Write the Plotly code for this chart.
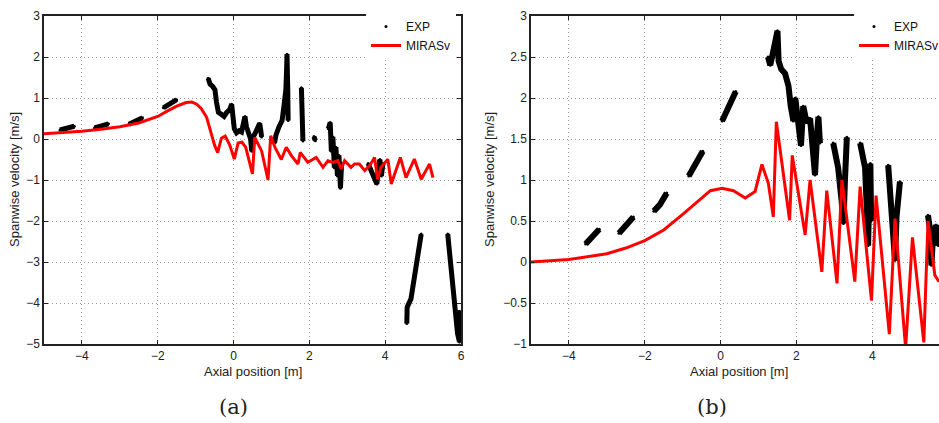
import plotly.graph_objects as go

W, H = 939, 423

# ---------------- data: chart (a) ----------------
red_a_x = [-5, -4, -3.5, -3, -2.5, -2, -1.75, -1.5, -1.25, -1.1, -0.97, -0.85, -0.71, -0.6, -0.5, -0.42,
           -0.32, -0.22, -0.1, 0.02, 0.12, 0.22, 0.32, 0.5, 0.56, 0.74, 0.91, 0.98, 1.09, 1.26, 1.39,
           1.53, 1.70, 1.76, 1.96, 2.18, 2.36, 2.49, 2.62, 2.75, 2.84, 2.93, 3.1, 3.19, 3.32, 3.46,
           3.59, 3.72, 3.8, 3.89, 4.07, 4.16, 4.4, 4.55, 4.77, 4.95, 5.17, 5.26]
red_a_y = [0.13, 0.19, 0.24, 0.3, 0.39, 0.55, 0.68, 0.8, 0.89, 0.9, 0.85, 0.74, 0.53, 0.18, -0.15, -0.33,
           0.02, 0.07, -0.15, -0.49, -0.1, -0.08, -0.2, -0.85, 0.04, -0.29, -1.0, 0.08, -0.2, -0.5, -0.2,
           -0.41, -0.61, -0.33, -0.57, -0.45, -0.69, -0.53, -0.57, -0.53, -0.73, -0.53, -0.69, -0.61, -0.61, -0.77,
           -0.65, -0.45, -0.98, -0.69, -0.49, -1.1, -0.45, -0.94, -0.49, -0.98, -0.61, -0.94]

exp_a_segments = [
    ([-4.58, -4.4, -4.2], [0.22, 0.27, 0.31]),
    ([-3.67, -3.5, -3.3], [0.27, 0.32, 0.37]),
    ([-2.76, -2.6, -2.4], [0.36, 0.44, 0.52]),
    ([-1.85, -1.7, -1.5], [0.76, 0.84, 0.96]),
    ([-0.67, -0.62, -0.55, -0.49, -0.45, -0.4, -0.32, -0.25, -0.18, -0.1, -0.05, -0.02, 0.02, 0.08,
      0.15, 0.21, 0.3, 0.34, 0.38, 0.45, 0.48, 0.52, 0.6, 0.69, 0.72, 0.74],
     [1.48, 1.34, 1.28, 1.2, 0.9, 0.65, 0.6, 0.55, 0.65, 0.72, 0.85, 0.4, 0.25, 0.15,
      0.2, 0.17, 0.55, 0.3, 0.15, 0.0, -0.3, 0.05, 0.2, 0.38, 0.2, 0.05]),
    ([1.08, 1.12, 1.2, 1.28, 1.33, 1.38, 1.4, 1.41, 1.43, 1.44],
     [-0.1, 0.1, 0.3, 0.45, 0.8, 1.2, 1.7, 2.07, 1.2, 0.45]),
    ([1.79, 1.8, 1.82, 1.83], [1.25, 0.8, 0.3, -0.05]),
    ([2.12, 2.16], [0.06, -0.04]),
    ([2.5, 2.55, 2.58, 2.62, 2.66, 2.7, 2.74, 2.78, 2.82, 2.85],
     [0.25, 0.4, -0.3, 0.05, -0.7, -0.2, -0.9, -0.4, -1.2, -0.6]),
    ([3.55, 3.62, 3.7, 3.78, 3.82, 3.86, 3.9, 3.94], [-0.6, -0.75, -0.95, -1.1, -0.75, -0.5, -0.9, -0.6]),
    ([4.57, 4.58, 4.68, 4.75, 4.82, 4.88, 4.95], [-4.5, -4.1, -3.9, -3.5, -3.1, -2.7, -2.32]),
    ([5.65, 5.7, 5.74, 5.8, 5.86, 5.91, 5.96, 6.0, 5.95, 6.0],
     [-2.32, -2.8, -3.2, -3.7, -4.2, -4.75, -4.95, -4.6, -4.2, -4.3]),
]

# ---------------- data: chart (b) ----------------
red_b_x = [-5, -4, -3, -2.5, -2, -1.5, -1, -0.62, -0.27, 0.04, 0.34, 0.65, 0.91, 1.09, 1.26, 1.39, 1.47,
           1.82, 1.89, 2.23, 2.36, 2.67, 2.8, 3.07, 3.2, 3.54, 3.68, 3.98, 4.1, 4.45, 4.6, 4.88, 5.06,
           5.36, 5.47, 5.65, 5.76]
red_b_y = [0.0, 0.03, 0.1, 0.17, 0.26, 0.39, 0.58, 0.73, 0.87, 0.9, 0.87, 0.78, 0.86, 1.19, 0.96, 0.55, 1.71,
           0.51, 1.3, 0.33, 1.0, -0.12, 0.87, -0.26, 1.0, -0.24, 0.92, -0.47, 0.81, -0.88, 0.53, -1.05, 0.30,
           -0.98, 0.5, -0.16, -0.24]

exp_b_segments = [
    ([-3.56, -3.4, -3.2], [0.22, 0.3, 0.4]),
    ([-2.68, -2.5, -2.3], [0.35, 0.44, 0.55]),
    ([-1.76, -1.6, -1.42], [0.62, 0.7, 0.84]),
    ([-0.84, -0.65, -0.47], [1.05, 1.2, 1.35]),
    ([0.04, 0.2, 0.4], [1.72, 1.88, 2.08]),
    ([1.25, 1.31, 1.38, 1.44, 1.5, 1.53, 1.6, 1.7, 1.79, 1.85, 1.92, 1.97, 2.05, 2.12, 2.18, 2.27,
      2.36, 2.45, 2.49, 2.55, 2.58, 2.62],
     [2.5, 2.4, 2.55, 2.66, 2.82, 2.45, 2.35, 2.3, 2.15, 1.9, 1.72, 2.0, 1.6, 1.42, 1.9, 1.7,
      1.75, 1.3, 1.06, 1.6, 1.77, 1.45]),
    ([2.97, 3.05, 3.1, 3.19, 3.24, 3.28, 3.33], [1.45, 1.25, 1.15, 0.75, 0.47, 1.0, 1.52]),
    ([3.68, 3.76, 3.81, 3.86, 3.89, 3.92, 3.95, 3.97], [1.45, 1.25, 1.15, 0.6, 0.2, 0.8, 1.2, 0.5]),
    ([4.42, 4.48, 4.51, 4.56, 4.6, 4.64, 4.7, 4.73], [1.18, 0.85, 0.59, 0.2, 0.02, 0.55, 0.8, 0.98]),
    ([5.47, 5.52, 5.56, 5.6, 5.68, 5.74], [0.57, 0.4, -0.04, 0.3, 0.45, 0.2]),
]

# ---------------- ticks ----------------
x_ticks = [-4, -2, 0, 2, 4, 6]
x_ticktext = ["−4", "−2", "0", "2", "4", "6"]
ya_ticks = [-5, -4, -3, -2, -1, 0, 1, 2, 3]
ya_ticktext = ["−5", "−4", "−3", "−2", "−1", "0", "1", "2", "3"]
yb_ticks = [-1, -0.5, 0, 0.5, 1, 1.5, 2, 2.5, 3]
yb_ticktext = ["−1", "−0.5", "0", "0.5", "1", "1.5", "2", "2.5", "3"]


def join(segs):
    xs, ys = [], []
    for sx, sy in segs:
        xs += list(sx) + [None]
        ys += list(sy) + [None]
    return xs, ys


FONT = "Liberation Sans, Arial, sans-serif"
fig = go.Figure()

for segs, rx, ry, xa, ya, leg, lw in [
    (exp_a_segments, red_a_x, red_a_y, "x", "y", "legend", 5),
    (exp_b_segments, red_b_x, red_b_y, "x2", "y2", "legend2", 6),
]:
    ex, ey = join(segs)
    fig.add_trace(go.Scatter(x=ex, y=ey, mode="lines", line=dict(color="black", width=lw),
                             xaxis=xa, yaxis=ya, showlegend=False, hoverinfo="skip"))
    fig.add_trace(go.Scatter(x=ex, y=ey, mode="markers", marker=dict(color="black", size=3),
                             name="EXP", xaxis=xa, yaxis=ya, legend=leg))
    fig.add_trace(go.Scatter(x=rx, y=ry, mode="lines", line=dict(color="#ff0000", width=3),
                             name="MIRASv", xaxis=xa, yaxis=ya, legend=leg))

ytop = 1 - 16 / H
ybot = 1 - 344 / H

axis_common = dict(showgrid=True, gridcolor="#9a9a9a", griddash="1px,3px", gridwidth=1,
                   showline=True, linecolor="#222", linewidth=1.5, ticks="inside", ticklen=4,
                   tickcolor="#222", zeroline=False, automargin=False,
                   tickfont=dict(family=FONT, size=12, color="#222"))

fig.update_layout(
    template="none",
    width=W, height=H, margin=dict(l=0, r=0, t=0, b=0, pad=0, autoexpand=False),
    paper_bgcolor="white", plot_bgcolor="white",
    font=dict(family=FONT, size=12, color="#222"),
    xaxis=dict(domain=[44 / W, 461 / W], range=[-5, 6], anchor="y", mirror="ticks",
               tickvals=x_ticks, ticktext=x_ticktext, **axis_common),
    yaxis=dict(domain=[ybot, ytop], range=[-5, 3], anchor="x", mirror="ticks",
               tickvals=ya_ticks, ticktext=ya_ticktext, **axis_common),
    xaxis2=dict(domain=[531 / W, 1.0], range=[-5, 5.76], anchor="y2", mirror="ticks",
                tickvals=x_ticks, ticktext=x_ticktext, **axis_common),
    yaxis2=dict(domain=[ybot, ytop], range=[-1, 3], anchor="x2", mirror=False,
                tickvals=yb_ticks, ticktext=yb_ticktext, **axis_common),
    legend=dict(x=366 / W, y=1 - 12 / H, xanchor="left", yanchor="top", bgcolor="white",
                borderwidth=0, font=dict(family=FONT, size=12, color="#111"), tracegroupgap=0),
    legend2=dict(x=854 / W, y=1 - 12 / H, xanchor="left", yanchor="top", bgcolor="white",
                 borderwidth=0, font=dict(family=FONT, size=12, color="#111"), tracegroupgap=0),
)

annots = [
    ("Axial position [m]", 252.5, 371, 0, 13, FONT),
    ("Axial position [m]", 739, 371, 0, 13, FONT),
    ("Spanwise velocity [m/s]", 15, 180, -90, 13, FONT),
    ("Spanwise velocity [m/s]", 490, 180, -90, 13, FONT),
    ("(a)", 233, 407, 0, 21, "DejaVu Serif, serif"),
    ("(b)", 712, 407, 0, 21, "DejaVu Serif, serif"),
]
for txt, px, py, ang, sz, fam in annots:
    fig.add_annotation(text=txt, x=px / W, y=1 - py / H, xref="paper", yref="paper",
                       showarrow=False, textangle=ang, xanchor="center", yanchor="middle",
                       font=dict(family=fam, size=sz, color="#222"))

fig.write_html("out.html")
